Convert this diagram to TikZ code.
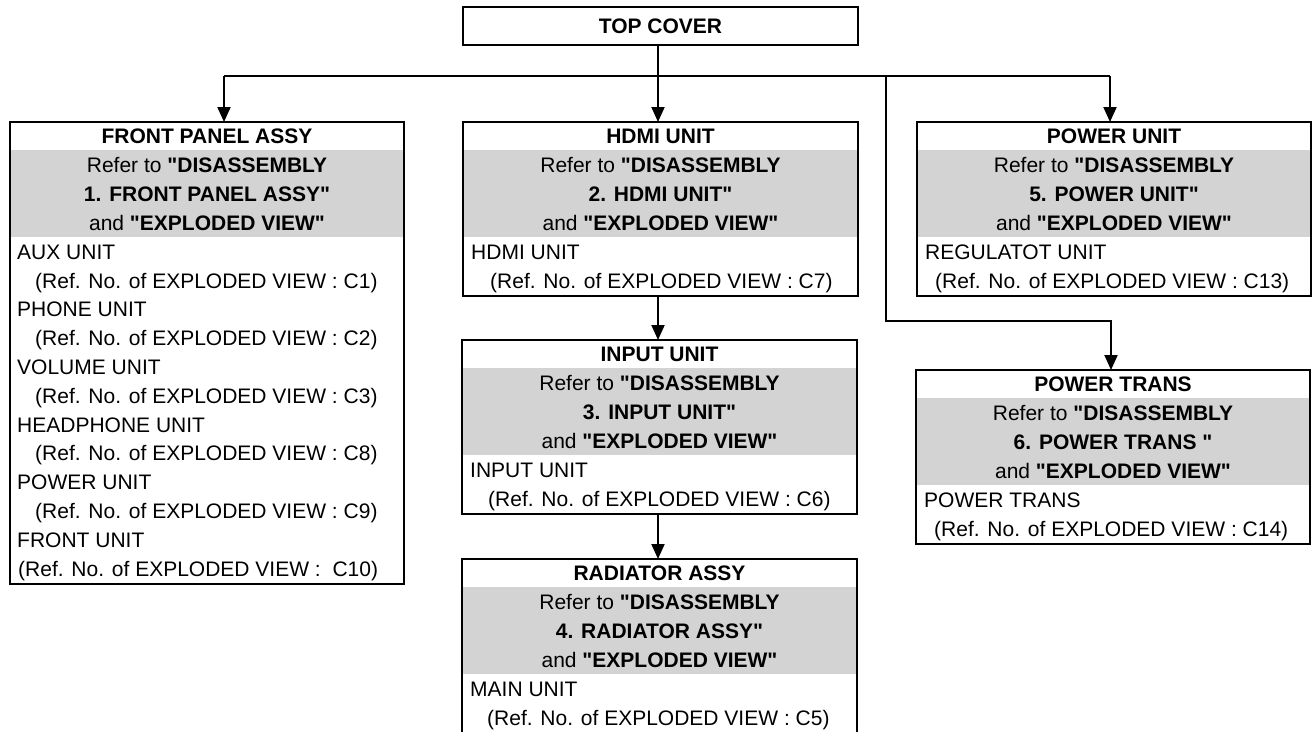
\documentclass[tikz,border=0pt]{standalone}
\usepackage{fontspec}
\setmainfont{Liberation Sans}[Ligatures=TeXOff]
\usetikzlibrary{arrows.meta}
\definecolor{gr}{RGB}{211,211,211}
\newcommand\fnt{\fontsize{21}{25}\selectfont}
\tikzset{
 box/.style={draw, line width=2.2pt, inner sep=0pt, outer sep=0pt},
 conn/.style={line width=2pt},
 arr/.style={conn, -{Triangle[length=15pt,width=13pt]}},
 hd/.style={anchor=base, inner sep=0pt, font=\fnt\bfseries},
 gt/.style={anchor=base, inner sep=0pt, font=\fnt},
 lt/.style={anchor=base west, inner sep=0pt, font=\fnt},
}
% #1 name, #2 left, #3 top, #4 width, #5 list rows
\newcommand\ubox[5]{%
 \fill[gr] (#2,#3+28) rectangle ++(#4,87);
 \node[box, anchor=north west, minimum width=#4, minimum height={115+#5*28.8+1}] (#1) at (#2,#3) {};
}
% #1 prefix, #2 centre x, #3 top, #4 title, #5 second line
\newcommand\uhead[5]{%
 \node[hd] (#1-t) at (#2,#3+21.5) {#4};
 \node[gt] (#1-g1) at (#2,#3+50) {Refer to \textbf{"DISASSEMBLY}};
 \node[gt] (#1-g2) at (#2,#3+79) {\textbf{#5}};
 \node[gt] (#1-g3) at (#2,#3+108) {and \textbf{"EXPLODED VIEW"}};
}
\begin{document}
\begin{tikzpicture}[x=1pt,y=-1pt]
\useasboundingbox (0,0) rectangle (1316,731);

% TOP COVER
\node[box, anchor=north west, minimum width=395, minimum height=38] (top) at (463,7) {};
\node[hd] (top-t) at (660.5,33.5) {TOP COVER};

% FRONT PANEL ASSY
\ubox{fp}{10}{122}{394}{12}
\uhead{fp}{207}{122}{FRONT PANEL ASSY}{1. FRONT PANEL ASSY"}
\node[lt] (fp-1) at (17,259.2) {AUX UNIT};
\node[lt] (fp-2) at (35,288.0) {(Ref. No. of EXPLODED VIEW : C1)};
\node[lt] (fp-3) at (17,316.8) {PHONE UNIT};
\node[lt] (fp-4) at (35,345.6) {(Ref. No. of EXPLODED VIEW : C2)};
\node[lt] (fp-5) at (17,374.4) {VOLUME UNIT};
\node[lt] (fp-6) at (35,403.2) {(Ref. No. of EXPLODED VIEW : C3)};
\node[lt] (fp-7) at (17,432.0) {HEADPHONE UNIT};
\node[lt] (fp-8) at (35,460.8) {(Ref. No. of EXPLODED VIEW : C8)};
\node[lt] (fp-9) at (17,489.6) {POWER UNIT};
\node[lt] (fp-10) at (35,518.4) {(Ref. No. of EXPLODED VIEW : C9)};
\node[lt] (fp-11) at (17,547.2) {FRONT UNIT};
\node[lt] (fp-12) at (18,576.0) {(Ref. No. of EXPLODED VIEW :\ \ C10)};

% HDMI UNIT
\ubox{hd}{463}{122}{395}{2}
\uhead{hd}{660.5}{122}{HDMI UNIT}{2. HDMI UNIT"}
\node[lt] (hd-1) at (471,259.2) {HDMI UNIT};
\node[lt] (hd-2) at (490,288.0) {(Ref. No. of EXPLODED VIEW : C7)};

% INPUT UNIT
\ubox{in}{462}{340}{395}{2}
\uhead{in}{659.5}{340}{INPUT UNIT}{3. INPUT UNIT"}
\node[lt] (in-1) at (470,477.2) {INPUT UNIT};
\node[lt] (in-2) at (488,506.0) {(Ref. No. of EXPLODED VIEW : C6)};

% RADIATOR ASSY
\ubox{ra}{462}{559}{395}{2}
\uhead{ra}{659.5}{559}{RADIATOR ASSY}{4. RADIATOR ASSY"}
\node[lt] (ra-1) at (470,696.2) {MAIN UNIT};
\node[lt] (ra-2) at (487,725.0) {(Ref. No. of EXPLODED VIEW : C5)};

% POWER UNIT
\ubox{pu}{917}{122}{394}{2}
\uhead{pu}{1114}{122}{POWER UNIT}{5. POWER UNIT"}
\node[lt] (pu-1) at (925,259.2) {REGULATOT UNIT};
\node[lt] (pu-2) at (935,288.0) {(Ref. No. of EXPLODED VIEW : C13)};

% POWER TRANS
\ubox{pt}{916}{370}{394}{2}
\uhead{pt}{1113}{370}{POWER TRANS}{6. POWER TRANS "}
\node[lt] (pt-1) at (924,507.2) {POWER TRANS};
\node[lt] (pt-2) at (934,536.0) {(Ref. No. of EXPLODED VIEW : C14)};

% connectors
\coordinate (jL) at (224,76);
\coordinate (jC) at (658,76);
\coordinate (jT) at (886,76);
\coordinate (jR) at (1110,76);
\coordinate (kT) at (886,321);
\coordinate (kR) at (1111,321);
\draw[conn] (jL) -- (jR);
\draw[arr] (top.south -| jC) -- (hd.north -| jC);
\draw[arr] (jL) -- (jL |- fp.north);
\draw[arr] (jR) -- (jR |- pu.north);
\draw[arr] (jT) -- (kT) -- (kR) -- (kR |- pt.north);
\draw[arr] (hd.south -| jC) -- (in.north -| jC);
\draw[arr] (in.south -| jC) -- (ra.north -| jC);
\end{tikzpicture}
\end{document}
